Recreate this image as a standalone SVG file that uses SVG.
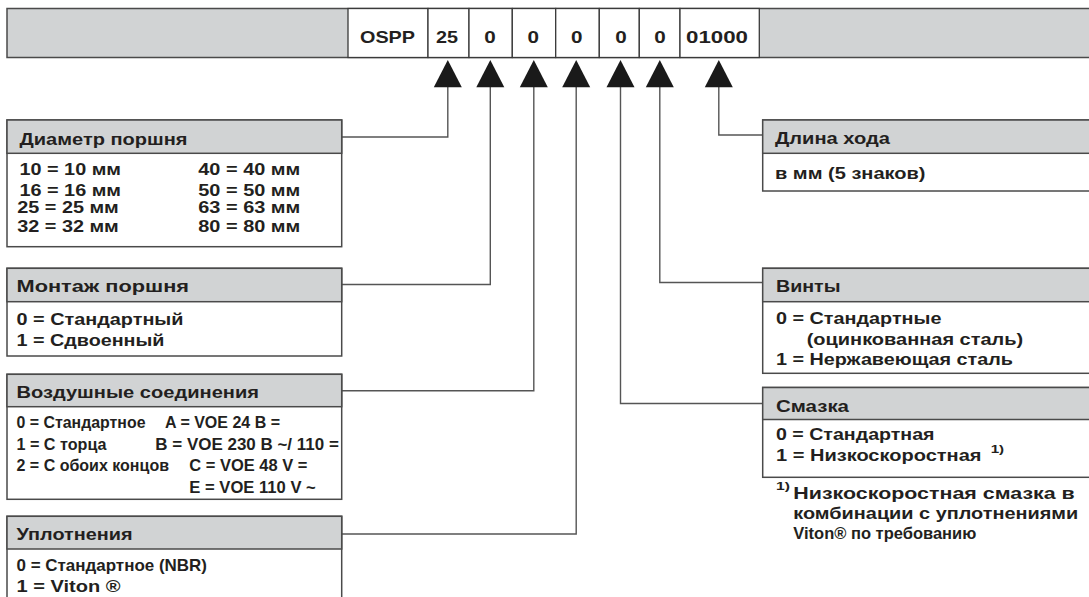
<svg xmlns="http://www.w3.org/2000/svg" width="1089" height="597" viewBox="0 0 1089 597">
<style>
.t{font-family:"Liberation Sans",Arial,Helvetica,sans-serif;font-weight:bold;font-size:17px;fill:#231f20}
.s{font-family:"Liberation Sans",Arial,Helvetica,sans-serif;font-weight:bold;font-size:10px;fill:#231f20}
.box{fill:#fff;stroke:#4a4a4a;stroke-width:1.5}
.hdr{fill:#d1d3d4;stroke:#4a4a4a;stroke-width:1.5}
.cell{fill:#fff;stroke:#3a3a3a;stroke-width:1.3}
.bar{fill:#d1d3d4;stroke:#4a4a4a;stroke-width:1.5}
.con{fill:none;stroke:#555;stroke-width:1.4}
.arr{fill:#1a1a1a}
</style>
<rect width="1089" height="597" fill="#fff"/>

<g id="code-bar">
  <rect class="bar" x="7" y="8.5" width="1090" height="49"/>
  <rect class="cell" x="348" y="8.5" width="80" height="49"/>
  <rect class="cell" x="428" y="8.5" width="41" height="49"/>
  <rect class="cell" x="469" y="8.5" width="43.3" height="49"/>
  <rect class="cell" x="512.3" y="8.5" width="43.4" height="49"/>
  <rect class="cell" x="555.7" y="8.5" width="43.6" height="49"/>
  <rect class="cell" x="599.3" y="8.5" width="40" height="49"/>
  <rect class="cell" x="639.3" y="8.5" width="40.7" height="49"/>
  <rect class="cell" x="680" y="8.5" width="79.3" height="49"/>
  <text class="t" x="360" y="43.3" textLength="55" lengthAdjust="spacingAndGlyphs">OSPP</text>
  <text class="t" x="436" y="43.3" textLength="22" lengthAdjust="spacingAndGlyphs">25</text>
  <text class="t" x="484.3" y="43.3" textLength="11.5" lengthAdjust="spacingAndGlyphs">0</text>
  <text class="t" x="527.6" y="43.3" textLength="11.5" lengthAdjust="spacingAndGlyphs">0</text>
  <text class="t" x="571" y="43.3" textLength="11.5" lengthAdjust="spacingAndGlyphs">0</text>
  <text class="t" x="615.3" y="43.3" textLength="11.5" lengthAdjust="spacingAndGlyphs">0</text>
  <text class="t" x="654.3" y="43.3" textLength="11.5" lengthAdjust="spacingAndGlyphs">0</text>
  <text class="t" x="686" y="43.3" textLength="62" lengthAdjust="spacingAndGlyphs">01000</text>
</g>

<g id="connectors">
  <path class="con" d="M341.7,137 H447.8 V87"/>
  <path class="con" d="M341.7,284.5 H490.3 V87"/>
  <path class="con" d="M341.7,390.7 H533.8 V87"/>
  <path class="con" d="M341.7,534 H576.2 V87"/>
  <path class="con" d="M762.7,403.5 H620.5 V87"/>
  <path class="con" d="M762.7,282.5 H659.8 V87"/>
  <path class="con" d="M762.7,135 H718.8 V87"/>
  <polygon class="arr" points="447.8,60 433.8,87.3 461.8,87.3"/>
  <polygon class="arr" points="490.3,60 476.3,87.3 504.3,87.3"/>
  <polygon class="arr" points="533.8,60 519.8,87.3 547.8,87.3"/>
  <polygon class="arr" points="576.2,60 562.2,87.3 590.2,87.3"/>
  <polygon class="arr" points="620.5,60 606.5,87.3 634.5,87.3"/>
  <polygon class="arr" points="659.8,60 645.8,87.3 673.8,87.3"/>
  <polygon class="arr" points="718.8,60 704.8,87.3 732.8,87.3"/>
</g>

<g id="diameter">
  <rect class="box" x="7" y="120" width="334.7" height="126.7"/>
  <rect class="hdr" x="7" y="120" width="334.7" height="33.3"/>
  <text class="t" x="19.5" y="145" textLength="168" lengthAdjust="spacingAndGlyphs">Диаметр поршня</text>
  <text class="t" x="19.5" y="175" textLength="101.5" lengthAdjust="spacingAndGlyphs">10 = 10 мм</text>
  <text class="t" x="19.5" y="196" textLength="101.5" lengthAdjust="spacingAndGlyphs">16 = 16 мм</text>
  <text class="t" x="17.3" y="213.3" textLength="101.5" lengthAdjust="spacingAndGlyphs">25 = 25 мм</text>
  <text class="t" x="17.3" y="231.7" textLength="101.5" lengthAdjust="spacingAndGlyphs">32 = 32 мм</text>
  <text class="t" x="198.3" y="175" textLength="102" lengthAdjust="spacingAndGlyphs">40 = 40 мм</text>
  <text class="t" x="198.3" y="196" textLength="102" lengthAdjust="spacingAndGlyphs">50 = 50 мм</text>
  <text class="t" x="198.3" y="213.3" textLength="102" lengthAdjust="spacingAndGlyphs">63 = 63 мм</text>
  <text class="t" x="198.3" y="231.7" textLength="102" lengthAdjust="spacingAndGlyphs">80 = 80 мм</text>
</g>

<g id="mounting">
  <rect class="box" x="7" y="268.3" width="334.7" height="87.7"/>
  <rect class="hdr" x="7" y="268.3" width="334.7" height="33.4"/>
  <text class="t" x="16.5" y="292" textLength="172.5" lengthAdjust="spacingAndGlyphs">Монтаж поршня</text>
  <text class="t" x="16.5" y="325" textLength="167" lengthAdjust="spacingAndGlyphs">0 = Стандартный</text>
  <text class="t" x="16.5" y="346" textLength="148" lengthAdjust="spacingAndGlyphs">1 = Сдвоенный</text>
</g>

<g id="air">
  <rect class="box" x="7" y="374.3" width="334.7" height="125"/>
  <rect class="hdr" x="7" y="374.3" width="334.7" height="32.4"/>
  <text class="t" x="16.5" y="398.3" textLength="242.5" lengthAdjust="spacingAndGlyphs">Воздушные соединения</text>
  <text class="t" x="16.5" y="427.5" textLength="129" lengthAdjust="spacingAndGlyphs">0 = Стандартное</text>
  <text class="t" x="165" y="427.5" textLength="115" lengthAdjust="spacingAndGlyphs">A = VOE 24 B =</text>
  <text class="t" x="16.5" y="450" textLength="90" lengthAdjust="spacingAndGlyphs">1 = С торца</text>
  <text class="t" x="155.3" y="450" textLength="183.5" lengthAdjust="spacingAndGlyphs">B = VOE 230 B ~/ 110 =</text>
  <text class="t" x="16.5" y="471" textLength="152.5" lengthAdjust="spacingAndGlyphs">2 = С обоих концов</text>
  <text class="t" x="189.3" y="471" textLength="118" lengthAdjust="spacingAndGlyphs">C = VOE 48 V =</text>
  <text class="t" x="189.3" y="492.7" textLength="126.5" lengthAdjust="spacingAndGlyphs">E = VOE 110 V ~</text>
</g>

<g id="seals">
  <rect class="box" x="7" y="516.3" width="334.7" height="90"/>
  <rect class="hdr" x="7" y="516.3" width="334.7" height="32.7"/>
  <text class="t" x="16.5" y="540" textLength="116" lengthAdjust="spacingAndGlyphs">Уплотнения</text>
  <text class="t" x="16.5" y="571" textLength="190.5" lengthAdjust="spacingAndGlyphs">0 = Стандартное (NBR)</text>
  <text class="t" x="16.5" y="592" textLength="104" lengthAdjust="spacingAndGlyphs">1 = Viton ®</text>
</g>

<g id="stroke-length">
  <rect class="box" x="762.7" y="120" width="340" height="71"/>
  <rect class="hdr" x="762.7" y="120" width="340" height="33.3"/>
  <text class="t" x="775" y="144" textLength="115" lengthAdjust="spacingAndGlyphs">Длина хода</text>
  <text class="t" x="775" y="179.3" textLength="150.5" lengthAdjust="spacingAndGlyphs">в мм (5 знаков)</text>
</g>

<g id="screws">
  <rect class="box" x="762.7" y="268.3" width="340" height="105"/>
  <rect class="hdr" x="762.7" y="268.3" width="340" height="33.4"/>
  <text class="t" x="776" y="292.3" textLength="64.5" lengthAdjust="spacingAndGlyphs">Винты</text>
  <text class="t" x="776" y="324" textLength="165.5" lengthAdjust="spacingAndGlyphs">0 = Стандартные</text>
  <text class="t" x="806.7" y="344.5" textLength="216.5" lengthAdjust="spacingAndGlyphs">(оцинкованная сталь)</text>
  <text class="t" x="776" y="365" textLength="237" lengthAdjust="spacingAndGlyphs">1 = Нержавеющая сталь</text>
</g>

<g id="lubrication">
  <rect class="box" x="762.7" y="387.5" width="340" height="89.8"/>
  <rect class="hdr" x="762.7" y="387.5" width="340" height="32"/>
  <text class="t" x="776" y="411.7" textLength="73" lengthAdjust="spacingAndGlyphs">Смазка</text>
  <text class="t" x="776" y="440" textLength="158.5" lengthAdjust="spacingAndGlyphs">0 = Стандартная</text>
  <text class="t" x="776" y="461" textLength="205.5" lengthAdjust="spacingAndGlyphs">1 = Низкоскоростная</text>
  <text class="s" x="990.7" y="453" textLength="13.5" lengthAdjust="spacingAndGlyphs">1)</text>
</g>

<g id="footnote">
  <text class="s" x="776" y="490" textLength="14" lengthAdjust="spacingAndGlyphs">1)</text>
  <text class="t" x="793.3" y="499" textLength="281.5" lengthAdjust="spacingAndGlyphs">Низкоскоростная смазка в</text>
  <text class="t" x="793.3" y="519" textLength="285" lengthAdjust="spacingAndGlyphs">комбинации с уплотнениями</text>
  <text class="t" x="793.3" y="539" textLength="183" lengthAdjust="spacingAndGlyphs">Viton® по требованию</text>
</g>
</svg>
